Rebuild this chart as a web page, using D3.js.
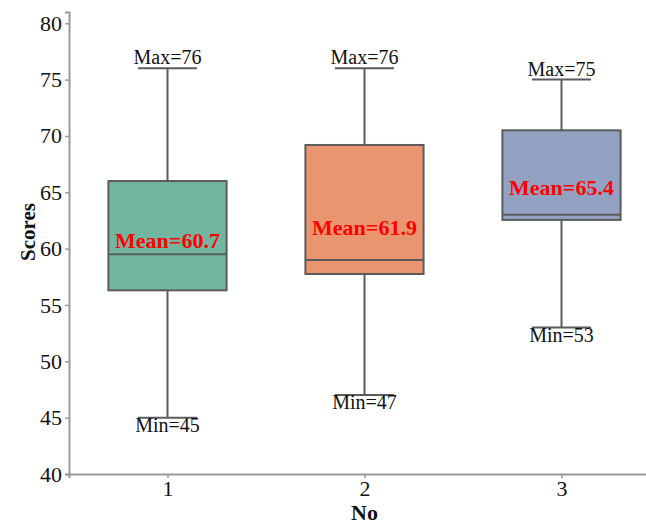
<!DOCTYPE html>
<html lang="en">
<head>
    <meta charset="UTF-8">
    <title>Scores box plot</title>
    <style>
        body { margin: 0; background: #fff; }
        svg text { font-family: "Liberation Serif", "Times New Roman", serif; }
    </style>
</head>
<body>
    <script src="https://d3js.org/d3.v7.min.js"></script>
    <script>
        // data
        let groups = ["1", "2", "3"];
        let q1 = [56.3, 57.75, 62.55];
        let medians = [59.5, 59.0, 63.0];
        let q3 = [66.0, 69.2, 70.5];
        let mins = [45, 47, 53];
        let maxs = [76, 76, 75];
        let means = [60.7, 61.9, 65.4];
        let yTicks = [40, 45, 50, 55, 60, 65, 70, 75, 80];
        let colors = ["#72b6a1", "#e9956f", "#93a2c3"];

        let width = 646, height = 524;
        let margin = {top: 12, right: -14, bottom: 50, left: 69};
        let serif = '"Liberation Serif", "Times New Roman", serif';

        let svg = d3.select('body')
            .append('svg')
            .attr('width', width)
            .attr('height', height);

        let x = d3.scaleLinear()
            .domain([-0.5, groups.length - 0.5])
            .range([margin.left, width - margin.right]);

        let y = d3.scaleLinear()
            .domain([40, 81])
            .range([height - margin.bottom, margin.top]);

        let boxW = (x(1) - x(0)) * 0.6;
        let capW = boxW / 2;
        let lineColor = '#5b5b5b';

        // axes
        let yAxis = svg.append('g')
            .attr('transform', 'translate(' + margin.left + ',0)')
            .call(d3.axisLeft(y).tickValues(yTicks).tickSize(4).tickPadding(3));
        let xAxis = svg.append('g')
            .attr('transform', 'translate(0,' + (height - margin.bottom) + ')')
            .call(d3.axisBottom(x).tickValues(d3.range(groups.length))
                .tickFormat(function(i) { return groups[i]; }).tickSize(4).tickPadding(2));

        [yAxis, xAxis].forEach(function(a) {
            a.attr('font-family', null).attr('font-size', null);
            a.select('.domain').attr('stroke', '#999').attr('stroke-width', 2);
            a.selectAll('.tick line').attr('stroke', '#999').attr('stroke-width', 1.5);
            a.selectAll('.tick text')
                .style('font-family', serif)
                .style('font-size', '22px')
                .attr('fill', '#111');
        });

        let box = svg.selectAll('g.box')
            .data(groups)
            .enter()
            .append('g')
            .attr('class', 'box');

        // whiskers
        box.append('line')
            .attr('x1', function(d, i) { return x(i); })
            .attr('x2', function(d, i) { return x(i); })
            .attr('y1', function(d, i) { return y(maxs[i]); })
            .attr('y2', function(d, i) { return y(q3[i]); })
            .attr('stroke', lineColor).attr('stroke-width', 2);
        box.append('line')
            .attr('x1', function(d, i) { return x(i); })
            .attr('x2', function(d, i) { return x(i); })
            .attr('y1', function(d, i) { return y(q1[i]); })
            .attr('y2', function(d, i) { return y(mins[i]); })
            .attr('stroke', lineColor).attr('stroke-width', 2);

        // caps
        [maxs, mins].forEach(function(arr) {
            box.append('line')
                .attr('x1', function(d, i) { return x(i) - capW / 2; })
                .attr('x2', function(d, i) { return x(i) + capW / 2; })
                .attr('y1', function(d, i) { return y(arr[i]); })
                .attr('y2', function(d, i) { return y(arr[i]); })
                .attr('stroke', lineColor).attr('stroke-width', 2);
        });

        // boxes
        box.append('rect')
            .attr('x', function(d, i) { return x(i) - boxW / 2; })
            .attr('y', function(d, i) { return y(q3[i]); })
            .attr('width', boxW)
            .attr('height', function(d, i) { return y(q1[i]) - y(q3[i]); })
            .attr('fill', function(d, i) { return colors[i]; })
            .attr('stroke', lineColor).attr('stroke-width', 2);

        // medians
        box.append('line')
            .attr('x1', function(d, i) { return x(i) - boxW / 2; })
            .attr('x2', function(d, i) { return x(i) + boxW / 2; })
            .attr('y1', function(d, i) { return y(medians[i]); })
            .attr('y2', function(d, i) { return y(medians[i]); })
            .attr('stroke', lineColor).attr('stroke-width', 2);

        // labels
        box.append('text')
            .attr('x', function(d, i) { return x(i); })
            .attr('y', function(d, i) { return y(maxs[i]) - 4; })
            .attr('text-anchor', 'middle')
            .attr('font-size', 20)
            .attr('fill', '#111')
            .text(function(d, i) { return 'Max=' + maxs[i]; });
        box.append('text')
            .attr('x', function(d, i) { return x(i); })
            .attr('y', function(d, i) { return y(mins[i]) + 14; })
            .attr('text-anchor', 'middle')
            .attr('font-size', 20)
            .attr('fill', '#111')
            .text(function(d, i) { return 'Min=' + mins[i]; });
        box.append('text')
            .attr('x', function(d, i) { return x(i); })
            .attr('y', function(d, i) { return y(means[i]); })
            .attr('text-anchor', 'middle')
            .attr('dominant-baseline', 'central')
            .attr('font-size', 22)
            .attr('font-weight', 'bold')
            .attr('fill', '#ff0000')
            .text(function(d, i) { return 'Mean=' + means[i]; });

        // axis titles
        svg.append('text')
            .attr('transform', 'translate(35,232) rotate(-90)')
            .attr('text-anchor', 'middle')
            .attr('font-size', 21)
            .attr('font-weight', 'bold')
            .attr('fill', '#111')
            .text('Scores');
        svg.append('text')
            .attr('x', x(1))
            .attr('y', 520)
            .attr('text-anchor', 'middle')
            .attr('font-size', 22)
            .attr('font-weight', 'bold')
            .attr('fill', '#111')
            .text('No');
    </script>
</body>
</html>
